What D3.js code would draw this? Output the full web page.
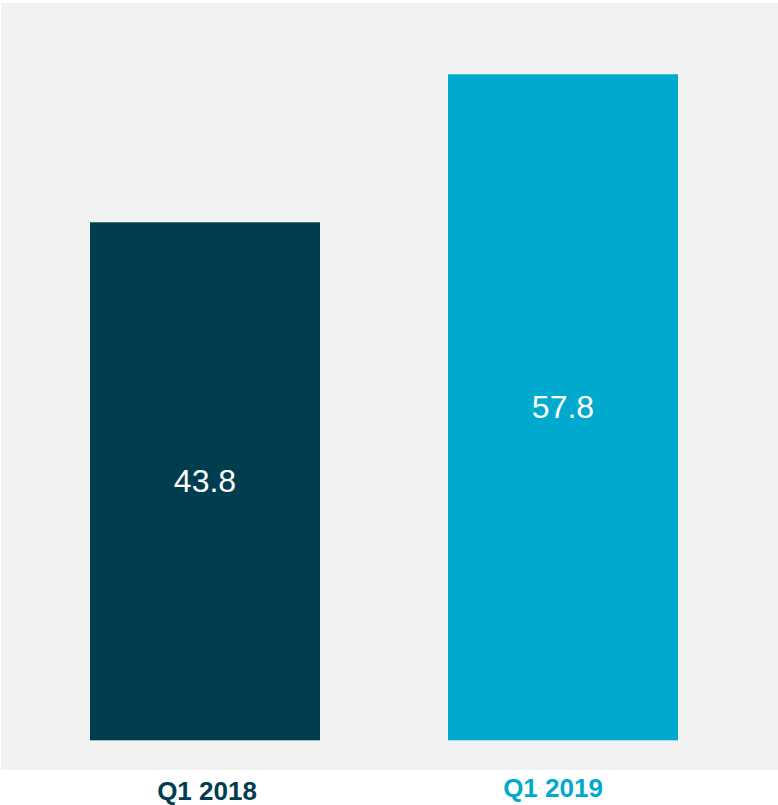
<!DOCTYPE html>
<html>
<head>
<meta charset="utf-8">
<script src="https://cdn.jsdelivr.net/npm/d3@7"></script>
<style>
  body { margin: 0; background: #ffffff; }
  svg { display: block; }
</style>
</head>
<body>
<div id="chart"></div>
<script>
// Data
const categories = ["Q1 2018", "Q1 2019"];
const values = [43.8, 57.8];
const barColors = ["#003d4f", "#00aacf"];

// Chart setup
const width = 778, height = 805;
const plot = { left: 1, top: 3, right: 778, bottom: 770 };

const svg = d3.select("#chart")
    .append("svg")
    .attr("width", width)
    .attr("height", height);

// grey plot panel
svg.append("rect")
    .attr("x", plot.left)
    .attr("y", plot.top)
    .attr("width", plot.right - plot.left)
    .attr("height", plot.bottom - plot.top)
    .attr("fill", "#f2f2f2");

// X - band scale
const x = d3.scaleBand()
    .domain(categories)
    .range([0.5, 767.5])
    .paddingInner(128 / 358)
    .paddingOuter(0.25);

// Y - baseline of the original chart sits a bit below zero
const yBase = -5.2;
const y = d3.scaleLinear()
    .domain([yBase, 57.8])
    .range([740.3, 74.3]);

// Bars
svg.selectAll("rect.bar")
    .data(values)
    .enter()
    .append("rect")
    .attr("class", "bar")
    .attr("x", (d, i) => x(categories[i]))
    .attr("y", d => y(d))
    .attr("width", x.bandwidth())
    .attr("height", d => y(yBase) - y(d))
    .attr("fill", (d, i) => barColors[i]);

// Value labels in the middle of the bars
svg.selectAll("text.value")
    .data(values)
    .enter()
    .append("text")
    .attr("class", "value")
    .attr("x", (d, i) => x(categories[i]) + x.bandwidth() / 2)
    .attr("y", d => (y(d) + y(yBase)) / 2 + 11)
    .attr("text-anchor", "middle")
    .attr("font-family", "Liberation Sans, Arial, sans-serif")
    .attr("font-size", "32px")
    .attr("fill", "#ffffff")
    .text(d => d.toFixed(1));

// Category labels
const labelY = [800, 797];
const labelDx = [2, -10];
svg.selectAll("text.cat")
    .data(categories)
    .enter()
    .append("text")
    .attr("class", "cat")
    .attr("x", (d, i) => x(d) + x.bandwidth() / 2 + labelDx[i])
    .attr("y", (d, i) => labelY[i])
    .attr("text-anchor", "middle")
    .attr("font-family", "Liberation Sans, Arial, sans-serif")
    .attr("font-weight", "bold")
    .attr("font-size", "26px")
    .attr("fill", (d, i) => barColors[i])
    .text(d => d);
</script>
</body>
</html>
